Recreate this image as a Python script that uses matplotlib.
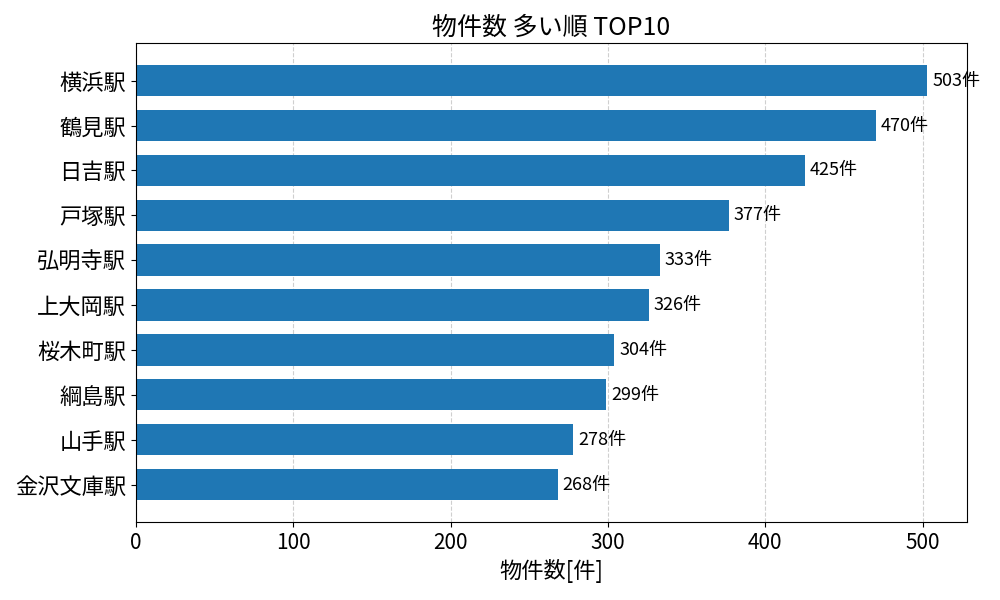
import matplotlib.pyplot as plt

plt.rcParams['font.family'] = ['Noto Sans CJK JP', 'DejaVu Sans']

stations = ['横浜駅', '鶴見駅', '日吉駅', '戸塚駅', '弘明寺駅',
            '上大岡駅', '桜木町駅', '綱島駅', '山手駅', '金沢文庫駅']
counts = [503, 470, 425, 377, 333, 326, 304, 299, 278, 268]


def main():
    fig, ax = plt.subplots(figsize=(10, 6), dpi=100)
    # reverse so the biggest sits at the top
    bars = ax.barh(stations[::-1], counts[::-1], height=0.7, color='#1f77b4')
    for b, c in zip(bars, counts[::-1]):
        ax.text(b.get_width() + 3, b.get_y() + b.get_height() / 2, str(c) + '件',
                va='center', ha='left', fontsize=13)
    ax.grid(axis='x', linestyle='--', alpha=0.6)
    ax.set_axisbelow(True)
    ax.set_title('物件数 多い順 TOP10', fontsize=18)
    ax.set_xlabel('物件数[件]', fontsize=16)
    ax.tick_params(axis='x', labelsize=15)
    ax.tick_params(axis='y', labelsize=16)
    fig.subplots_adjust(left=0.136, right=0.967, top=0.928, bottom=0.13)
    fig.savefig('out.png')


if __name__ == '__main__':
    main()
